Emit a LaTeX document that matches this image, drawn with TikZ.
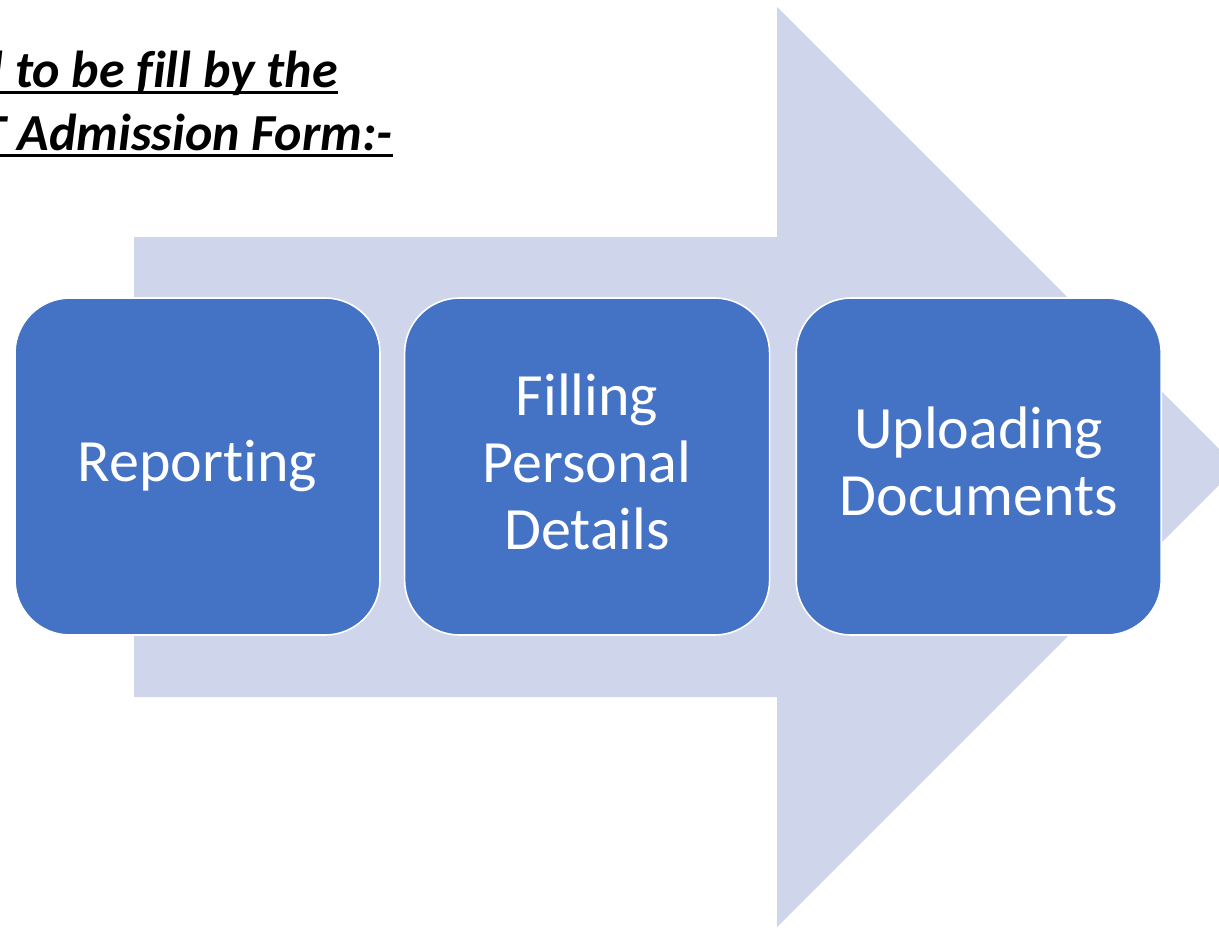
\documentclass[tikz,border=0pt]{standalone}
\usepackage{fontspec}
\setmainfont{Carlito}[Ligatures={NoCommon}]
\usetikzlibrary{positioning}

\definecolor{arrowfill}{HTML}{CFD5EA}
\definecolor{stepblue}{HTML}{4472C4}

\tikzset{
	stepbox/.style={draw=white, line width=0.8pt, fill=stepblue, rounded corners=27.5pt,
		minimum width=182.5pt, minimum height=168.5pt, inner sep=0pt,
		align=center, text=white, font=\fontsize{30}{33.5}\selectfont},
	titleline/.style={anchor=base east, inner sep=0pt,
		font=\fontsize{26}{30}\selectfont\bfseries\itshape},
	underbar/.style={line width=1.5pt}
}

\begin{document}
\begin{tikzpicture}[x=0.5pt, y=-0.5pt]
	\useasboundingbox (0,0) rectangle (1219,927);
	\clip (0,0) rectangle (1219,927);
	\fill[white] (0,0) rectangle (1219,927);

	% big arrow behind the steps
	\fill[arrowfill] (134,237) -- (777,237) -- (777,7) -- (1237,467) -- (777,927) -- (777,697) -- (134,697) -- cycle;

	% steps
	\node[stepbox] (report) at (197.5,466.5) {Reporting};
	\node[stepbox, text depth=5pt, right=11.5pt of report] (personal) {Filling\\Personal\\Details};
	\node[stepbox, text depth=5pt, right=12.5pt of personal] (upload) {Uploading\\Documents};

	% title, cut at the left edge
	\node[titleline] (title1) at (338,87) {l to be fill by the};
	\node[titleline] (title2) at (393,150) {T Admission Form:-};
	\draw[underbar] ([yshift=-2.5pt]title1.base west) -- ([yshift=-2.5pt]title1.base east);
	\draw[underbar] ([yshift=-2.5pt]title2.base west) -- ([yshift=-2.5pt]title2.base east);
\end{tikzpicture}
\end{document}
